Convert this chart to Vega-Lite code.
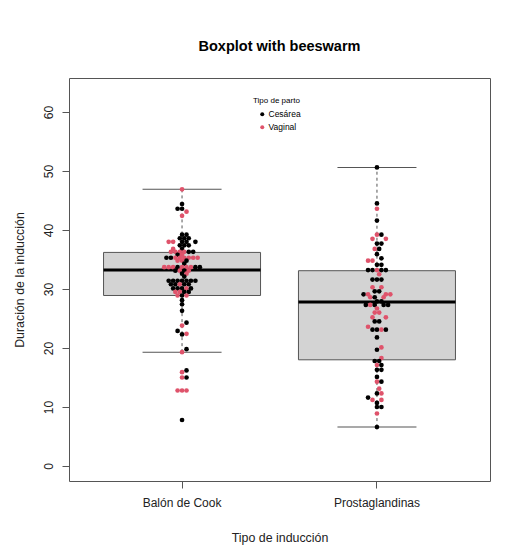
{
  "$schema": "https://vega.github.io/schema/vega-lite/v6.json",
  "width": 421,
  "height": 403,
  "autosize": {"type": "none"},
  "padding": {"left": 69, "top": 78, "right": 26, "bottom": 76},
  "background": "white",
  "title": {"text": "Boxplot with beeswarm", "font": "Liberation Sans", "fontSize": 14.5, "fontWeight": "bold", "color": "#000000", "anchor": "middle", "offset": 24},
  "config": {"view": {"stroke": "#555555", "strokeWidth": 1}, "font": "Liberation Sans"},
  "datasets": {
    "stats": [
      {"induccion": "Balón de Cook", "lower": 19.3, "q1": 28.9, "median": 33.2, "q3": 36.2, "upper": 46.9},
      {"induccion": "Prostaglandinas", "lower": 6.6, "q1": 18.0, "median": 27.8, "q3": 33.1, "upper": 50.6}
    ],
    "points": [
      {"induccion": "Balón de Cook", "parto": "Vaginal", "duracion": 46.9, "swarm": 0},
      {"induccion": "Balón de Cook", "parto": "Cesárea", "duracion": 44.4, "swarm": 0},
      {"induccion": "Balón de Cook", "parto": "Cesárea", "duracion": 43.6, "swarm": -1},
      {"induccion": "Balón de Cook", "parto": "Cesárea", "duracion": 43.6, "swarm": 0},
      {"induccion": "Balón de Cook", "parto": "Vaginal", "duracion": 43.1, "swarm": 1},
      {"induccion": "Balón de Cook", "parto": "Vaginal", "duracion": 42.4, "swarm": 0},
      {"induccion": "Balón de Cook", "parto": "Cesárea", "duracion": 39.2, "swarm": 0},
      {"induccion": "Balón de Cook", "parto": "Cesárea", "duracion": 39.2, "swarm": 1},
      {"induccion": "Balón de Cook", "parto": "Cesárea", "duracion": 38.6, "swarm": -0.5},
      {"induccion": "Balón de Cook", "parto": "Cesárea", "duracion": 38.6, "swarm": 0.5},
      {"induccion": "Balón de Cook", "parto": "Cesárea", "duracion": 38.6, "swarm": 1.5},
      {"induccion": "Balón de Cook", "parto": "Vaginal", "duracion": 38.0, "swarm": -3},
      {"induccion": "Balón de Cook", "parto": "Vaginal", "duracion": 38.0, "swarm": -2},
      {"induccion": "Balón de Cook", "parto": "Cesárea", "duracion": 38.0, "swarm": 0},
      {"induccion": "Balón de Cook", "parto": "Cesárea", "duracion": 38.0, "swarm": 1},
      {"induccion": "Balón de Cook", "parto": "Cesárea", "duracion": 38.0, "swarm": 3},
      {"induccion": "Balón de Cook", "parto": "Cesárea", "duracion": 37.4, "swarm": -0.5},
      {"induccion": "Balón de Cook", "parto": "Cesárea", "duracion": 37.4, "swarm": 0.5},
      {"induccion": "Balón de Cook", "parto": "Cesárea", "duracion": 37.4, "swarm": 1.5},
      {"induccion": "Balón de Cook", "parto": "Vaginal", "duracion": 36.8, "swarm": -2},
      {"induccion": "Balón de Cook", "parto": "Cesárea", "duracion": 36.8, "swarm": 0},
      {"induccion": "Balón de Cook", "parto": "Vaginal", "duracion": 36.3, "swarm": -2.5},
      {"induccion": "Balón de Cook", "parto": "Vaginal", "duracion": 36.3, "swarm": -1.5},
      {"induccion": "Balón de Cook", "parto": "Vaginal", "duracion": 36.3, "swarm": -0.5},
      {"induccion": "Balón de Cook", "parto": "Vaginal", "duracion": 36.3, "swarm": 0.5},
      {"induccion": "Balón de Cook", "parto": "Cesárea", "duracion": 36.3, "swarm": 1.5},
      {"induccion": "Balón de Cook", "parto": "Cesárea", "duracion": 36.3, "swarm": 2.5},
      {"induccion": "Balón de Cook", "parto": "Cesárea", "duracion": 35.8, "swarm": -1},
      {"induccion": "Balón de Cook", "parto": "Vaginal", "duracion": 35.8, "swarm": 0},
      {"induccion": "Balón de Cook", "parto": "Cesárea", "duracion": 35.3, "swarm": -3.5},
      {"induccion": "Balón de Cook", "parto": "Cesárea", "duracion": 35.3, "swarm": -2.5},
      {"induccion": "Balón de Cook", "parto": "Vaginal", "duracion": 35.3, "swarm": -1.5},
      {"induccion": "Balón de Cook", "parto": "Vaginal", "duracion": 35.3, "swarm": -0.5},
      {"induccion": "Balón de Cook", "parto": "Vaginal", "duracion": 35.3, "swarm": 0.5},
      {"induccion": "Balón de Cook", "parto": "Vaginal", "duracion": 35.3, "swarm": 1.5},
      {"induccion": "Balón de Cook", "parto": "Vaginal", "duracion": 35.3, "swarm": 2.5},
      {"induccion": "Balón de Cook", "parto": "Vaginal", "duracion": 35.3, "swarm": 3.5},
      {"induccion": "Balón de Cook", "parto": "Vaginal", "duracion": 34.8, "swarm": -1},
      {"induccion": "Balón de Cook", "parto": "Vaginal", "duracion": 34.8, "swarm": 0},
      {"induccion": "Balón de Cook", "parto": "Cesárea", "duracion": 34.8, "swarm": 1},
      {"induccion": "Balón de Cook", "parto": "Cesárea", "duracion": 34.3, "swarm": 0.5},
      {"induccion": "Balón de Cook", "parto": "Vaginal", "duracion": 33.7, "swarm": -4},
      {"induccion": "Balón de Cook", "parto": "Vaginal", "duracion": 33.7, "swarm": -3},
      {"induccion": "Balón de Cook", "parto": "Vaginal", "duracion": 33.7, "swarm": -2},
      {"induccion": "Balón de Cook", "parto": "Cesárea", "duracion": 33.7, "swarm": -1},
      {"induccion": "Balón de Cook", "parto": "Vaginal", "duracion": 33.7, "swarm": 0},
      {"induccion": "Balón de Cook", "parto": "Vaginal", "duracion": 33.7, "swarm": 1},
      {"induccion": "Balón de Cook", "parto": "Vaginal", "duracion": 33.7, "swarm": 2},
      {"induccion": "Balón de Cook", "parto": "Cesárea", "duracion": 33.7, "swarm": 3},
      {"induccion": "Balón de Cook", "parto": "Cesárea", "duracion": 33.7, "swarm": 4},
      {"induccion": "Balón de Cook", "parto": "Cesárea", "duracion": 33.1, "swarm": -1.5},
      {"induccion": "Balón de Cook", "parto": "Vaginal", "duracion": 33.1, "swarm": -0.5},
      {"induccion": "Balón de Cook", "parto": "Cesárea", "duracion": 33.1, "swarm": 0.5},
      {"induccion": "Balón de Cook", "parto": "Vaginal", "duracion": 33.1, "swarm": 1.5},
      {"induccion": "Balón de Cook", "parto": "Cesárea", "duracion": 32.6, "swarm": 0},
      {"induccion": "Balón de Cook", "parto": "Vaginal", "duracion": 32.6, "swarm": 1},
      {"induccion": "Balón de Cook", "parto": "Cesárea", "duracion": 32.1, "swarm": 0.5},
      {"induccion": "Balón de Cook", "parto": "Cesárea", "duracion": 31.4, "swarm": -3},
      {"induccion": "Balón de Cook", "parto": "Cesárea", "duracion": 31.4, "swarm": -2},
      {"induccion": "Balón de Cook", "parto": "Cesárea", "duracion": 31.4, "swarm": -1},
      {"induccion": "Balón de Cook", "parto": "Cesárea", "duracion": 31.4, "swarm": 0},
      {"induccion": "Balón de Cook", "parto": "Cesárea", "duracion": 31.4, "swarm": 1},
      {"induccion": "Balón de Cook", "parto": "Cesárea", "duracion": 31.4, "swarm": 2},
      {"induccion": "Balón de Cook", "parto": "Cesárea", "duracion": 31.4, "swarm": 3},
      {"induccion": "Balón de Cook", "parto": "Cesárea", "duracion": 30.8, "swarm": -2.5},
      {"induccion": "Balón de Cook", "parto": "Cesárea", "duracion": 30.8, "swarm": -1.5},
      {"induccion": "Balón de Cook", "parto": "Vaginal", "duracion": 30.8, "swarm": -0.5},
      {"induccion": "Balón de Cook", "parto": "Cesárea", "duracion": 30.8, "swarm": 0.5},
      {"induccion": "Balón de Cook", "parto": "Cesárea", "duracion": 30.8, "swarm": 1.5},
      {"induccion": "Balón de Cook", "parto": "Cesárea", "duracion": 30.1, "swarm": -2},
      {"induccion": "Balón de Cook", "parto": "Cesárea", "duracion": 30.1, "swarm": -1},
      {"induccion": "Balón de Cook", "parto": "Cesárea", "duracion": 30.1, "swarm": 0},
      {"induccion": "Balón de Cook", "parto": "Vaginal", "duracion": 30.1, "swarm": 1},
      {"induccion": "Balón de Cook", "parto": "Cesárea", "duracion": 30.1, "swarm": 2},
      {"induccion": "Balón de Cook", "parto": "Vaginal", "duracion": 29.5, "swarm": -1.5},
      {"induccion": "Balón de Cook", "parto": "Vaginal", "duracion": 29.5, "swarm": -0.5},
      {"induccion": "Balón de Cook", "parto": "Cesárea", "duracion": 29.5, "swarm": 0.5},
      {"induccion": "Balón de Cook", "parto": "Cesárea", "duracion": 29.5, "swarm": 1.5},
      {"induccion": "Balón de Cook", "parto": "Vaginal", "duracion": 28.9, "swarm": -1},
      {"induccion": "Balón de Cook", "parto": "Cesárea", "duracion": 28.9, "swarm": 0},
      {"induccion": "Balón de Cook", "parto": "Vaginal", "duracion": 28.9, "swarm": 1},
      {"induccion": "Balón de Cook", "parto": "Cesárea", "duracion": 28.1, "swarm": 0},
      {"induccion": "Balón de Cook", "parto": "Cesárea", "duracion": 27.4, "swarm": 0},
      {"induccion": "Balón de Cook", "parto": "Cesárea", "duracion": 26.3, "swarm": 0},
      {"induccion": "Balón de Cook", "parto": "Cesárea", "duracion": 24.3, "swarm": 1},
      {"induccion": "Balón de Cook", "parto": "Vaginal", "duracion": 23.8, "swarm": 0},
      {"induccion": "Balón de Cook", "parto": "Cesárea", "duracion": 22.9, "swarm": -1},
      {"induccion": "Balón de Cook", "parto": "Vaginal", "duracion": 22.4, "swarm": 1},
      {"induccion": "Balón de Cook", "parto": "Cesárea", "duracion": 22.3, "swarm": 0},
      {"induccion": "Balón de Cook", "parto": "Cesárea", "duracion": 19.8, "swarm": 1},
      {"induccion": "Balón de Cook", "parto": "Vaginal", "duracion": 19.3, "swarm": 0},
      {"induccion": "Balón de Cook", "parto": "Cesárea", "duracion": 16.2, "swarm": 1},
      {"induccion": "Balón de Cook", "parto": "Vaginal", "duracion": 15.9, "swarm": 0},
      {"induccion": "Balón de Cook", "parto": "Cesárea", "duracion": 15.0, "swarm": 1},
      {"induccion": "Balón de Cook", "parto": "Vaginal", "duracion": 15.0, "swarm": 0},
      {"induccion": "Balón de Cook", "parto": "Vaginal", "duracion": 12.8, "swarm": -1},
      {"induccion": "Balón de Cook", "parto": "Vaginal", "duracion": 12.8, "swarm": 0},
      {"induccion": "Balón de Cook", "parto": "Vaginal", "duracion": 12.8, "swarm": 1},
      {"induccion": "Balón de Cook", "parto": "Cesárea", "duracion": 7.8, "swarm": 0},

      {"induccion": "Prostaglandinas", "parto": "Cesárea", "duracion": 50.6, "swarm": 0},
      {"induccion": "Prostaglandinas", "parto": "Cesárea", "duracion": 44.5, "swarm": 0},
      {"induccion": "Prostaglandinas", "parto": "Vaginal", "duracion": 43.6, "swarm": 0},
      {"induccion": "Prostaglandinas", "parto": "Cesárea", "duracion": 41.6, "swarm": 0},
      {"induccion": "Prostaglandinas", "parto": "Vaginal", "duracion": 39.2, "swarm": 0},
      {"induccion": "Prostaglandinas", "parto": "Cesárea", "duracion": 39.2, "swarm": 1},
      {"induccion": "Prostaglandinas", "parto": "Vaginal", "duracion": 38.5, "swarm": -1},
      {"induccion": "Prostaglandinas", "parto": "Vaginal", "duracion": 38.5, "swarm": 2},
      {"induccion": "Prostaglandinas", "parto": "Cesárea", "duracion": 37.7, "swarm": 0},
      {"induccion": "Prostaglandinas", "parto": "Cesárea", "duracion": 37.7, "swarm": 1},
      {"induccion": "Prostaglandinas", "parto": "Vaginal", "duracion": 36.8, "swarm": -0.5},
      {"induccion": "Prostaglandinas", "parto": "Cesárea", "duracion": 36.8, "swarm": 0.5},
      {"induccion": "Prostaglandinas", "parto": "Cesárea", "duracion": 35.9, "swarm": 0},
      {"induccion": "Prostaglandinas", "parto": "Cesárea", "duracion": 35.2, "swarm": 1},
      {"induccion": "Prostaglandinas", "parto": "Vaginal", "duracion": 34.8, "swarm": -2},
      {"induccion": "Prostaglandinas", "parto": "Vaginal", "duracion": 34.8, "swarm": -1},
      {"induccion": "Prostaglandinas", "parto": "Cesárea", "duracion": 34.1, "swarm": 0},
      {"induccion": "Prostaglandinas", "parto": "Cesárea", "duracion": 34.1, "swarm": 1},
      {"induccion": "Prostaglandinas", "parto": "Cesárea", "duracion": 33.2, "swarm": -2},
      {"induccion": "Prostaglandinas", "parto": "Cesárea", "duracion": 33.2, "swarm": -1},
      {"induccion": "Prostaglandinas", "parto": "Vaginal", "duracion": 33.2, "swarm": 0},
      {"induccion": "Prostaglandinas", "parto": "Cesárea", "duracion": 33.2, "swarm": 1},
      {"induccion": "Prostaglandinas", "parto": "Cesárea", "duracion": 33.2, "swarm": 2},
      {"induccion": "Prostaglandinas", "parto": "Vaginal", "duracion": 32.5, "swarm": 0.5},
      {"induccion": "Prostaglandinas", "parto": "Cesárea", "duracion": 31.6, "swarm": -1},
      {"induccion": "Prostaglandinas", "parto": "Cesárea", "duracion": 31.6, "swarm": 0},
      {"induccion": "Prostaglandinas", "parto": "Cesárea", "duracion": 31.6, "swarm": 1},
      {"induccion": "Prostaglandinas", "parto": "Vaginal", "duracion": 30.3, "swarm": -1},
      {"induccion": "Prostaglandinas", "parto": "Vaginal", "duracion": 30.3, "swarm": 1},
      {"induccion": "Prostaglandinas", "parto": "Cesárea", "duracion": 29.6, "swarm": -0.5},
      {"induccion": "Prostaglandinas", "parto": "Cesárea", "duracion": 29.6, "swarm": 0.5},
      {"induccion": "Prostaglandinas", "parto": "Cesárea", "duracion": 29.1, "swarm": -3},
      {"induccion": "Prostaglandinas", "parto": "Vaginal", "duracion": 29.1, "swarm": -2},
      {"induccion": "Prostaglandinas", "parto": "Vaginal", "duracion": 29.1, "swarm": 2},
      {"induccion": "Prostaglandinas", "parto": "Vaginal", "duracion": 29.1, "swarm": 3},
      {"induccion": "Prostaglandinas", "parto": "Vaginal", "duracion": 28.6, "swarm": -1.5},
      {"induccion": "Prostaglandinas", "parto": "Cesárea", "duracion": 28.6, "swarm": -0.5},
      {"induccion": "Prostaglandinas", "parto": "Vaginal", "duracion": 28.6, "swarm": 1.5},
      {"induccion": "Prostaglandinas", "parto": "Cesárea", "duracion": 27.9, "swarm": 0},
      {"induccion": "Prostaglandinas", "parto": "Cesárea", "duracion": 27.9, "swarm": 1},
      {"induccion": "Prostaglandinas", "parto": "Cesárea", "duracion": 27.3, "swarm": -2.5},
      {"induccion": "Prostaglandinas", "parto": "Vaginal", "duracion": 27.3, "swarm": -1.5},
      {"induccion": "Prostaglandinas", "parto": "Cesárea", "duracion": 27.3, "swarm": -0.5},
      {"induccion": "Prostaglandinas", "parto": "Cesárea", "duracion": 27.3, "swarm": 1.5},
      {"induccion": "Prostaglandinas", "parto": "Cesárea", "duracion": 27.3, "swarm": 2.5},
      {"induccion": "Prostaglandinas", "parto": "Vaginal", "duracion": 26.7, "swarm": 0},
      {"induccion": "Prostaglandinas", "parto": "Vaginal", "duracion": 26.0, "swarm": -0.5},
      {"induccion": "Prostaglandinas", "parto": "Vaginal", "duracion": 26.0, "swarm": 0.5},
      {"induccion": "Prostaglandinas", "parto": "Vaginal", "duracion": 25.2, "swarm": -1},
      {"induccion": "Prostaglandinas", "parto": "Vaginal", "duracion": 25.2, "swarm": 2},
      {"induccion": "Prostaglandinas", "parto": "Cesárea", "duracion": 24.5, "swarm": -0.5},
      {"induccion": "Prostaglandinas", "parto": "Cesárea", "duracion": 24.5, "swarm": 0.5},
      {"induccion": "Prostaglandinas", "parto": "Vaginal", "duracion": 23.6, "swarm": -2},
      {"induccion": "Prostaglandinas", "parto": "Cesárea", "duracion": 23.1, "swarm": -1},
      {"induccion": "Prostaglandinas", "parto": "Cesárea", "duracion": 23.1, "swarm": 0},
      {"induccion": "Prostaglandinas", "parto": "Vaginal", "duracion": 23.1, "swarm": 1},
      {"induccion": "Prostaglandinas", "parto": "Cesárea", "duracion": 23.1, "swarm": 2},
      {"induccion": "Prostaglandinas", "parto": "Cesárea", "duracion": 21.8, "swarm": 0},
      {"induccion": "Prostaglandinas", "parto": "Vaginal", "duracion": 20.1, "swarm": 1},
      {"induccion": "Prostaglandinas", "parto": "Cesárea", "duracion": 19.7, "swarm": 0},
      {"induccion": "Prostaglandinas", "parto": "Vaginal", "duracion": 18.3, "swarm": 1},
      {"induccion": "Prostaglandinas", "parto": "Cesárea", "duracion": 17.8, "swarm": -0.5},
      {"induccion": "Prostaglandinas", "parto": "Cesárea", "duracion": 17.8, "swarm": 0.5},
      {"induccion": "Prostaglandinas", "parto": "Vaginal", "duracion": 17.1, "swarm": 0},
      {"induccion": "Prostaglandinas", "parto": "Cesárea", "duracion": 17.1, "swarm": 1},
      {"induccion": "Prostaglandinas", "parto": "Cesárea", "duracion": 16.3, "swarm": 0},
      {"induccion": "Prostaglandinas", "parto": "Cesárea", "duracion": 16.3, "swarm": 1},
      {"induccion": "Prostaglandinas", "parto": "Cesárea", "duracion": 15.1, "swarm": 0},
      {"induccion": "Prostaglandinas", "parto": "Vaginal", "duracion": 14.3, "swarm": 0},
      {"induccion": "Prostaglandinas", "parto": "Cesárea", "duracion": 14.3, "swarm": 1},
      {"induccion": "Prostaglandinas", "parto": "Vaginal", "duracion": 13.1, "swarm": 0.5},
      {"induccion": "Prostaglandinas", "parto": "Cesárea", "duracion": 12.3, "swarm": 0},
      {"induccion": "Prostaglandinas", "parto": "Vaginal", "duracion": 12.3, "swarm": 1},
      {"induccion": "Prostaglandinas", "parto": "Cesárea", "duracion": 11.6, "swarm": -2},
      {"induccion": "Prostaglandinas", "parto": "Vaginal", "duracion": 11.2, "swarm": -1},
      {"induccion": "Prostaglandinas", "parto": "Vaginal", "duracion": 11.2, "swarm": 1},
      {"induccion": "Prostaglandinas", "parto": "Cesárea", "duracion": 10.7, "swarm": 0},
      {"induccion": "Prostaglandinas", "parto": "Cesárea", "duracion": 10.0, "swarm": 0},
      {"induccion": "Prostaglandinas", "parto": "Cesárea", "duracion": 10.0, "swarm": 1},
      {"induccion": "Prostaglandinas", "parto": "Vaginal", "duracion": 8.9, "swarm": 0},
      {"induccion": "Prostaglandinas", "parto": "Cesárea", "duracion": 6.6, "swarm": 0}
    ]
  },
  "encoding": {
    "x": {
      "field": "induccion",
      "type": "nominal",
      "scale": {"domain": ["Balón de Cook", "Prostaglandinas"], "paddingInner": 0.2, "paddingOuter": 0.18},
      "axis": {
        "title": "Tipo de inducción",
        "domain": false,
        "grid": false,
        "labelAngle": 0,
        "tickSize": 7,
        "tickColor": "#555555",
        "labelPadding": 9,
        "labelFont": "Liberation Sans",
        "labelFontSize": 12,
        "labelColor": "#222222",
        "titleFont": "Liberation Sans",
        "titleFontSize": 12.4,
        "titleFontWeight": "normal",
        "titleColor": "#222222",
        "titleY": 56,
        "titleBaseline": "middle"
      }
    }
  },
  "layer": [
    {
      "data": {"name": "stats"},
      "mark": {"type": "bar", "fill": "#D3D3D3", "stroke": "#555555", "strokeWidth": 1, "width": 157},
      "encoding": {
        "y": {
          "field": "q1",
          "type": "quantitative",
          "title": "Duración de la inducción",
          "scale": {"domain": [-2.54, 65.76], "nice": false, "zero": false},
          "axis": {
            "values": [0, 10, 20, 30, 40, 50, 60],
            "domain": false,
            "grid": false,
            "tickSize": 7,
            "tickColor": "#555555",
            "labelAngle": -90,
            "labelAlign": "center",
            "labelBaseline": "bottom",
            "labelPadding": 7,
            "labelFont": "Liberation Sans",
            "labelFontSize": 12,
            "labelColor": "#222222",
            "titleFont": "Liberation Sans",
            "titleFontSize": 12.4,
            "titleFontWeight": "normal",
            "titleColor": "#222222",
            "titleAngle": -90,
            "titleX": -50,
            "titleY": 201.5,
            "titleAlign": "center",
            "titleBaseline": "middle"
          }
        },
        "y2": {"field": "q3"}
      }
    },
    {
      "data": {"name": "stats"},
      "mark": {"type": "rule", "color": "#555555", "strokeWidth": 1, "strokeDash": [3, 3]},
      "encoding": {
        "y": {"field": "q3", "type": "quantitative", "title": "Duración de la inducción"},
        "y2": {"field": "upper"}
      }
    },
    {
      "data": {"name": "stats"},
      "mark": {"type": "rule", "color": "#555555", "strokeWidth": 1, "strokeDash": [3, 3]},
      "encoding": {
        "y": {"field": "lower", "type": "quantitative", "title": "Duración de la inducción"},
        "y2": {"field": "q1"}
      }
    },
    {
      "data": {"name": "stats"},
      "mark": {"type": "tick", "color": "#555555", "thickness": 1, "size": 79, "opacity": 1},
      "encoding": {
        "y": {"field": "upper", "type": "quantitative", "title": "Duración de la inducción"}
      }
    },
    {
      "data": {"name": "stats"},
      "mark": {"type": "tick", "color": "#555555", "thickness": 1, "size": 79, "opacity": 1},
      "encoding": {
        "y": {"field": "lower", "type": "quantitative", "title": "Duración de la inducción"}
      }
    },
    {
      "data": {"name": "stats"},
      "mark": {"type": "tick", "color": "#000000", "thickness": 3, "size": 157, "opacity": 1},
      "encoding": {
        "y": {"field": "median", "type": "quantitative", "title": "Duración de la inducción"}
      }
    },
    {
      "data": {"name": "points"},
      "mark": {"type": "point", "shape": "circle", "filled": true, "size": 22, "opacity": 1, "strokeWidth": 0},
      "encoding": {
        "y": {"field": "duracion", "type": "quantitative", "title": "Duración de la inducción"},
        "xOffset": {
          "field": "swarm",
          "type": "ordinal",
          "scale": {
            "domain": [-17.5, -17, -16.5, -16, -15.5, -15, -14.5, -14, -13.5, -13, -12.5, -12, -11.5, -11, -10.5, -10, -9.5, -9, -8.5, -8, -7.5, -7, -6.5, -6, -5.5, -5, -4.5, -4, -3.5, -3, -2.5, -2, -1.5, -1, -0.5, 0, 0.5, 1, 1.5, 2, 2.5, 3, 3.5, 4, 4.5, 5, 5.5, 6, 6.5, 7, 7.5, 8, 8.5, 9, 9.5, 10, 10.5, 11, 11.5, 12, 12.5, 13, 13.5, 14, 14.5, 15, 15.5, 16, 16.5, 17, 17.5],
            "paddingInner": 0,
            "paddingOuter": 0
          }
        },
        "color": {
          "field": "parto",
          "type": "nominal",
          "scale": {"domain": ["Cesárea", "Vaginal"], "range": ["#000000", "#DF536B"]},
          "legend": {
            "orient": "none",
            "legendX": 184,
            "legendY": 19,
            "padding": 0,
            "title": "Tipo de parto",
            "titleFont": "Liberation Sans",
            "titleFontSize": 8,
            "titleFontWeight": "normal",
            "titleColor": "#000000",
            "titlePadding": 5,
            "labelFont": "Liberation Sans",
            "labelFontSize": 8.5,
            "labelColor": "#000000",
            "labelOffset": 2,
            "symbolType": "circle",
            "symbolSize": 16,
            "symbolStrokeWidth": 0,
            "symbolOffset": 5,
            "rowPadding": 4
          }
        }
      }
    }
  ]
}
